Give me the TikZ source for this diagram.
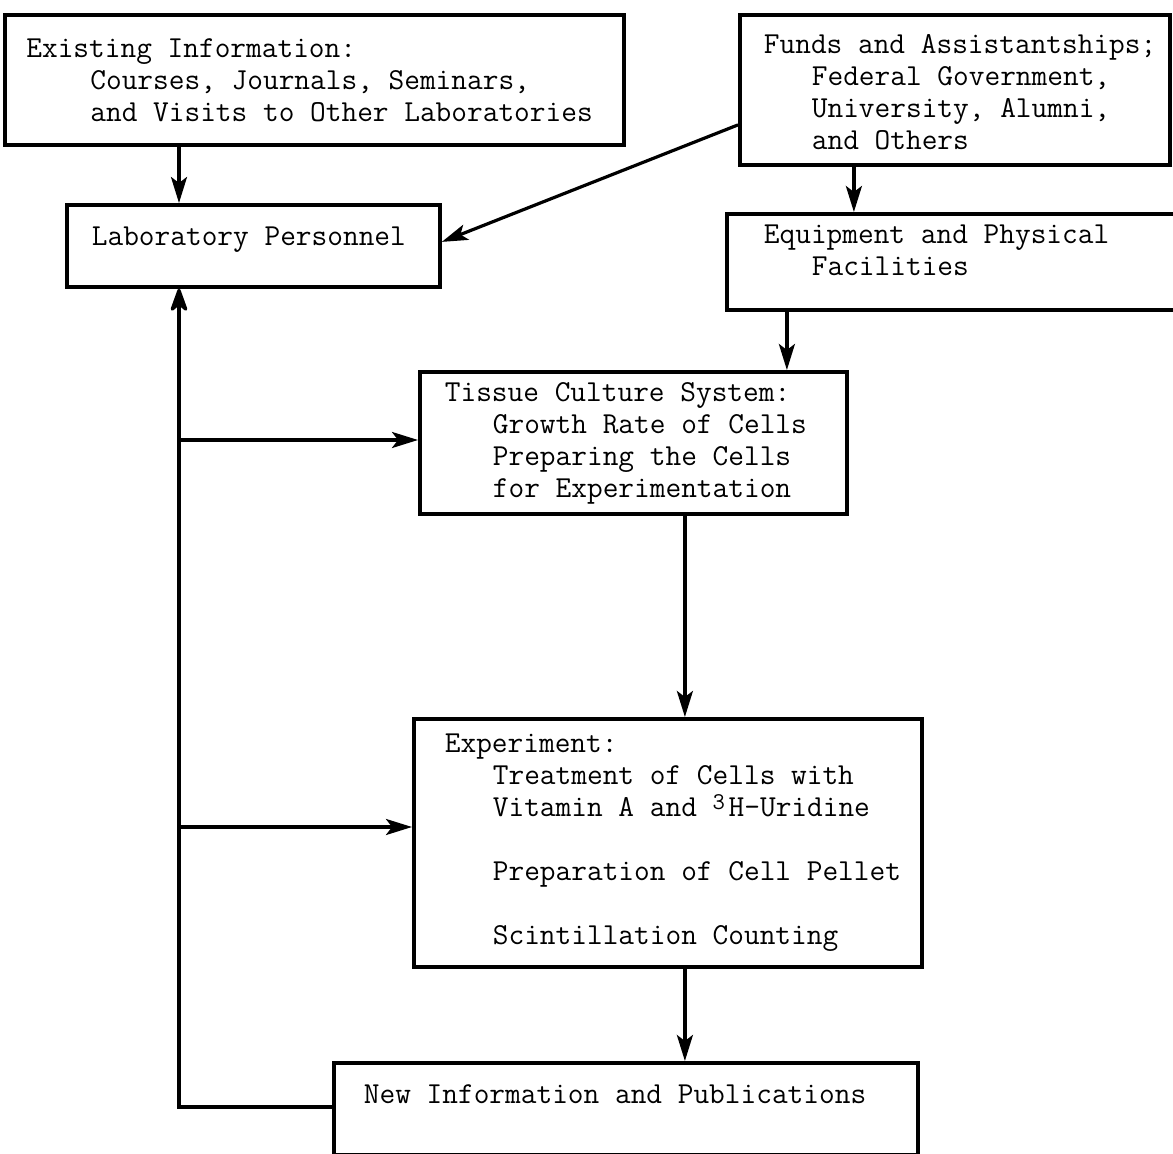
\documentclass[tikz,border=0pt]{standalone}
\usepackage{fontspec}
\usepackage{tikz}
\usetikzlibrary{arrows.meta,calc,positioning}
\newlength{\chw}\setlength{\chw}{8pt}
\newcommand{\typew}{\ttfamily\fontsize{15.24pt}{16pt}\selectfont\frenchspacing}
\newcommand{\indln}[2][3]{\mbox{\hspace*{#1\chw}#2}}
\newcommand{\supthree}{\makebox[\chw][l]{\raisebox{3.5pt}{\fontsize{12pt}{12pt}\selectfont 3}}}
\tikzset{%
	block/.style    = {draw, rectangle, line width=1.9pt, anchor=north west, align=flush left, font=\typew, inner xsep=0pt, inner ysep=0pt}, % Box
	link/.style     = {line width=1.6pt, -{Stealth[length=13pt, width=8pt, inset=3pt]}}, % Arrow
	back/.style     = {line width=1.6pt, -{Stealth[length=14pt, width=10pt, inset=4pt, round]}}, % Feedback
}
\begin{document}
\begin{tikzpicture}[x=0.5pt, y=-0.5pt]
		\useasboundingbox (0,0) rectangle (1173,1154);
		\node[block, minimum width=309.5pt, minimum height=65pt, text width=288pt] (info) at (3,13) {Existing Information:\\ \indln[4]{Courses, Journals, Seminars,}\\ \indln[4]{and Visits to Other Laboratories}};
		\node[block, minimum width=215pt, minimum height=75pt, text width=191pt, text height=9pt, text depth=45pt] (funds) at (738,13) {\mbox{Funds and Assistantships;}\\ \indln{Federal Government,}\\ \indln{University, Alumni,}\\ \indln{and Others}};
		\node[block, minimum width=186.5pt, minimum height=41pt, text width=161.5pt, text height=8pt, text depth=8pt] (lab) at (65,203) {Laboratory Personnel};
		\node[block, minimum width=232.5pt, minimum height=48pt, text width=195.5pt, text height=9pt, text depth=27pt] (equip) at (725,212) {Equipment and Physical\\ \indln{Facilities}};
		\node[block, minimum width=213.5pt, minimum height=71pt, text width=188.5pt] (tissue) at (418,370) {Tissue Culture System:\\ \indln{Growth Rate of Cells}\\ \indln{Preparing the Cells}\\ \indln{for Experimentation}};
		\node[block, minimum width=254pt, minimum height=124pt, text width=223pt] (exper) at (412,717) {Experiment:\\ \indln{Treatment of Cells with}\\ \indln{Vitamin A and \supthree H-Uridine}\\[16pt] \indln{Preparation of Cell Pellet}\\[16pt] \indln{Scintillation Counting}};
		\node[block, minimum width=292pt, minimum height=46pt, text width=262pt, text height=8pt, text depth=13pt] (newinfo) at (332,1061) {New Information and Publications};
		\coordinate (fb1) at (179,440);
		\coordinate (fb2) at (179,827);
		\coordinate (fb3) at (179,1107);
		\draw[link] (info.south -| fb1) -- (lab.north -| fb1);
		\draw[link] ([yshift=-17.5pt]funds.west) -- ([yshift=2pt]lab.east);
		\draw[link] ([xshift=-50.5pt]funds.south) -- ([xshift=-50.5pt]funds.south |- equip.north);
		\draw[link] ([xshift=-86.25pt]equip.south) -- ([xshift=-86.25pt]equip.south |- tissue.north);
		\draw[link] ([xshift=25.75pt]tissue.south) -- ([xshift=25.75pt]tissue.south |- exper.north);
		\draw[link] ([xshift=8.5pt]exper.south) -- ([xshift=8.5pt]exper.south |- newinfo.north);
		\draw[back] (fb3 -| newinfo.west) -- (fb3) -- (fb3 |- lab.south);
		\draw[link] (fb1) -- (fb1 -| tissue.west);
		\draw[link] (fb2) -- (fb2 -| exper.west);
		
		\end{tikzpicture}
\end{document}
